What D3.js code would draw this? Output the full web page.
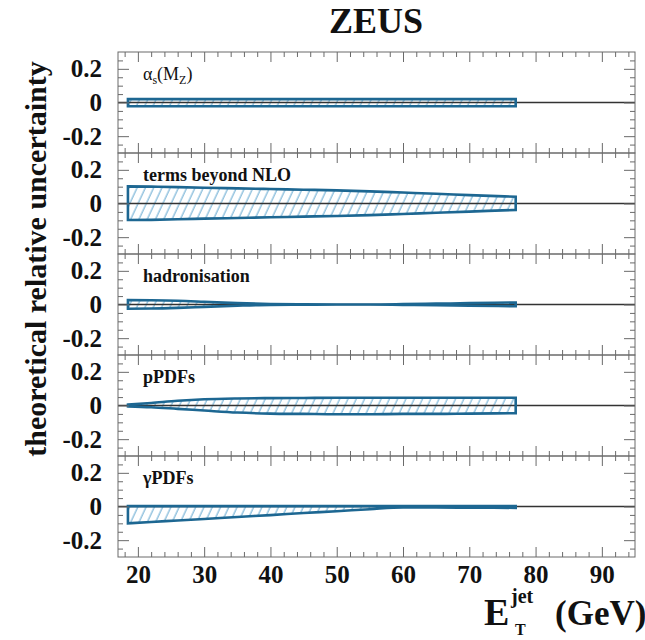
<!DOCTYPE html>
<html>
<head>
<meta charset="utf-8">
<script src="https://cdn.jsdelivr.net/npm/d3@7"></script>
<style>
  body { margin: 0; background: #fff; }
  svg { display: block; }
  svg text { font-family: "Liberation Serif", "Times New Roman", "DejaVu Serif", serif !important; }
</style>
</head>
<body>
<div id="chart"></div>
<script>
const etJet = [18.5, 22, 26, 30, 35, 40, 45, 50, 55, 60, 65, 70, 77]

// relative uncertainty bands (upper / lower edge), one pair per panel
const alphasUp   = [0.020, 0.020, 0.020, 0.020, 0.020, 0.020, 0.020, 0.020, 0.020, 0.020, 0.020, 0.020, 0.020]
const alphasDown = [-0.022, -0.022, -0.022, -0.022, -0.022, -0.022, -0.022, -0.022, -0.022, -0.022, -0.022, -0.022, -0.022]

const nloUp   = [0.102, 0.100, 0.097, 0.094, 0.090, 0.086, 0.082, 0.078, 0.072, 0.065, 0.058, 0.050, 0.040]
const nloDown = [-0.098, -0.097, -0.094, -0.090, -0.086, -0.082, -0.078, -0.074, -0.069, -0.062, -0.055, -0.048, -0.038]

const hadUp   = [0.026, 0.025, 0.022, 0.016, 0.008, 0.003, 0.001, 0.000, 0.000, 0.002, 0.005, 0.008, 0.012]
const hadDown = [-0.025, -0.024, -0.020, -0.014, -0.007, -0.002, -0.001, 0.000, 0.000, -0.002, -0.004, -0.007, -0.010]

const ppdfUp   = [0.005, 0.015, 0.028, 0.037, 0.042, 0.044, 0.045, 0.046, 0.046, 0.046, 0.046, 0.046, 0.046]
const ppdfDown = [-0.005, -0.010, -0.020, -0.030, -0.042, -0.048, -0.050, -0.052, -0.052, -0.050, -0.050, -0.048, -0.046]

const gpdfUp   = [0.002, 0.002, 0.002, 0.002, 0.002, 0.002, 0.002, 0.002, 0.002, 0.002, 0.002, 0.002, 0.002]
const gpdfDown = [-0.100, -0.092, -0.083, -0.074, -0.062, -0.051, -0.039, -0.028, -0.016, -0.006, -0.006, -0.007, -0.008]

const panelNames = ["alphas", "terms beyond NLO", "hadronisation", "pPDFs", "γPDFs"]
const xMajorTicks = [20, 30, 40, 50, 60, 70, 80, 90]
const yMajorTicks = [-0.2, 0, 0.2]

const W = 645, H = 640
const margin = {top: 52, right: 10, bottom: 83, left: 118}
const width = W - margin.left - margin.right
const panelH = (H - margin.top - margin.bottom) / panelNames.length

const ups = [alphasUp, nloUp, hadUp, ppdfUp, gpdfUp]
const downs = [alphasDown, nloDown, hadDown, ppdfDown, gpdfDown]

const svg = d3.select("#chart")
  .append("svg")
    .attr("width", W)
    .attr("height", H)

// hatch fill
svg.append("defs")
  .append("pattern")
    .attr("id", "hatch")
    .attr("patternUnits", "userSpaceOnUse")
    .attr("width", 7.5)
    .attr("height", 7.5)
    .attr("patternTransform", "rotate(25)")
  .append("line")
    .attr("x1", 2).attr("y1", 0)
    .attr("x2", 2).attr("y2", 7.5)
    .attr("stroke", "#5fa6cf")
    .attr("stroke-width", 1)

const x = d3.scaleLinear()
  .domain([17, 95])
  .range([0, width])

const y = d3.scaleLinear()
  .domain([-0.3, 0.3])
  .range([panelH, 0])

const xMinor = d3.range(18, 95, 2).filter(d => d % 10 !== 0)
const yMinor = d3.range(-0.25, 0.26, 0.05).map(d => +d.toFixed(2)).filter(d => Math.abs(d) > 1e-9 && Math.abs(Math.abs(d) - 0.2) > 1e-9)

const g = svg.append("g")
  .attr("transform", `translate(${margin.left}, ${margin.top})`)

const tickStyle = sel => {
  sel.select(".domain").remove()
  sel.selectAll("line").attr("stroke", "#6a6a6a").attr("stroke-width", 1)
  sel.selectAll("text").remove()
}

const labelStyle = sel => {
  sel.select(".domain").remove()
  sel.attr("font-family", null).attr("font-size", null)
  sel.selectAll("text")
    .style("font-weight", "bold")
    .style("font-size", "25px")
    .attr("fill", "#111")
}

panelNames.forEach((name, i) => {
  const p = g.append("g")
    .attr("transform", `translate(0, ${i * panelH})`)

  const rows = etJet.map((e, k) => ({e: e, up: ups[i][k], down: downs[i][k]}))

  const area = d3.area()
    .x(d => x(d.e))
    .y0(d => y(d.down))
    .y1(d => y(d.up))
    .curve(d3.curveMonotoneX)

  p.append("path")
    .datum(rows)
    .attr("d", area)
    .attr("fill", "url(#hatch)")

  // zero line
  p.append("line")
    .attr("x1", 0).attr("x2", width)
    .attr("y1", y(0)).attr("y2", y(0))
    .attr("stroke", "#333")
    .attr("stroke-width", 1.4)

  p.append("path")
    .datum(rows)
    .attr("d", d => area(d) + "Z")
    .attr("fill", "none")
    .attr("stroke", "#1d6792")
    .attr("stroke-width", 2.6)
    .attr("stroke-linejoin", "miter")

  // frame
  p.append("rect")
    .attr("width", width)
    .attr("height", panelH)
    .attr("fill", "none")
    .attr("stroke", "#6a6a6a")
    .attr("stroke-width", 1)

  // inward ticks, all four sides
  p.append("g").attr("transform", `translate(0, ${panelH})`)
    .call(d3.axisTop(x).tickValues(xMajorTicks).tickSize(10)).call(tickStyle)
  p.append("g").attr("transform", `translate(0, ${panelH})`)
    .call(d3.axisTop(x).tickValues(xMinor).tickSize(5)).call(tickStyle)
  p.append("g")
    .call(d3.axisBottom(x).tickValues(xMajorTicks).tickSize(10)).call(tickStyle)
  p.append("g")
    .call(d3.axisBottom(x).tickValues(xMinor).tickSize(5)).call(tickStyle)
  p.append("g")
    .call(d3.axisRight(y).tickValues(yMajorTicks).tickSize(11)).call(tickStyle)
  p.append("g")
    .call(d3.axisRight(y).tickValues(yMinor).tickSize(5)).call(tickStyle)
  p.append("g").attr("transform", `translate(${width}, 0)`)
    .call(d3.axisLeft(y).tickValues(yMajorTicks).tickSize(11)).call(tickStyle)
  p.append("g").attr("transform", `translate(${width}, 0)`)
    .call(d3.axisLeft(y).tickValues(yMinor).tickSize(5)).call(tickStyle)

  // y tick labels
  p.append("g")
    .call(d3.axisLeft(y).tickValues(yMajorTicks).tickSize(0).tickPadding(16)
      .tickFormat(d => d === 0 ? "0" : String(d)))
    .call(labelStyle)

  // panel label
  const lab = p.append("text")
    .attr("x", 25)
    .attr("y", 28)
    .style("font-size", "18px")
    .attr("fill", "#111")
  if (name === "alphas") {
    lab.append("tspan").text("α")
    lab.append("tspan").style("font-size", "12px").attr("dy", 4).text("s")
    lab.append("tspan").attr("dy", -4).text("(M")
    lab.append("tspan").style("font-size", "12px").attr("dy", 4).text("Z")
    lab.append("tspan").attr("dy", -4).text(")")
  } else {
    lab.style("font-weight", "bold").text(name)
  }
})

// x tick labels under the last panel
g.append("g")
  .attr("transform", `translate(0, ${panelH * panelNames.length})`)
  .call(d3.axisBottom(x).tickValues(xMajorTicks).tickSize(0).tickPadding(8))
  .call(labelStyle)

// title
svg.append("text")
  .attr("x", 376)
  .attr("y", 33)
  .attr("text-anchor", "middle")
  .style("font-weight", "bold")
  .style("font-size", "36px")
  .attr("fill", "#111")
  .text("ZEUS")

// y axis title
svg.append("text")
  .attr("transform", "translate(46, 259) rotate(-90)")
  .attr("text-anchor", "middle")
  .style("font-weight", "bold")
  .style("font-size", "30px")
  .attr("fill", "#111")
  .text("theoretical relative uncertainty")

// x axis title: E_T^jet (GeV)
const xt = svg.append("g").style("font-weight", "bold").attr("fill", "#111")
xt.append("text").attr("x", 484).attr("y", 625).style("font-size", "38px").text("E")
xt.append("text").attr("x", 511).attr("y", 603).style("font-size", "20px").text("jet")
xt.append("text").attr("x", 515).attr("y", 635).style("font-size", "16px").text("T")
xt.append("text").attr("x", 555).attr("y", 625).style("font-size", "35px").text("(GeV)")
</script>
</body>
</html>
